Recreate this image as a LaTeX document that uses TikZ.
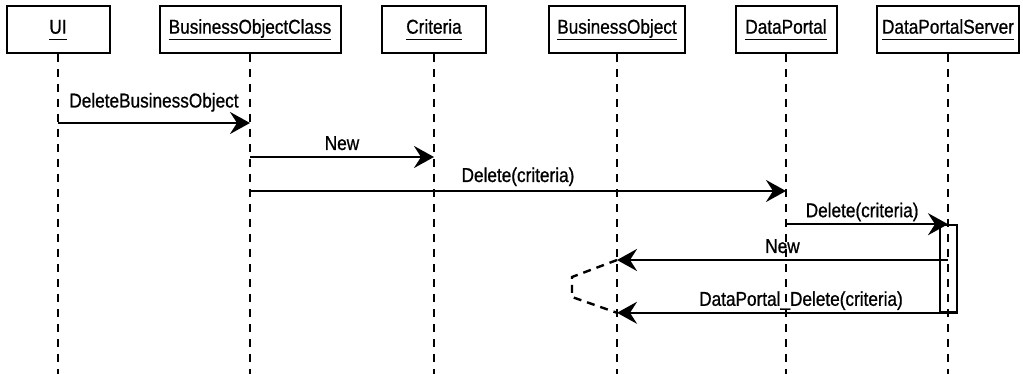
\documentclass[tikz,border=0pt]{standalone}
\usepackage{fontspec}
\usepackage{tikz}
\usetikzlibrary{arrows.meta,positioning,calc}
\usepackage{xcolor}
\newfontfamily\seqfont{Liberation Sans}[FakeStretch=0.86, FakeBold=0.8]
\newcommand{\objname}[1]{\underline{#1\vphantom{j}}}

\begin{document}
\begin{tikzpicture}[
  x=1pt, y=-1pt,
  object/.style={
    rectangle, draw=black, fill=white, line width=2pt,
    minimum height=47pt, inner sep=0pt, align=center,
    font=\seqfont\fontsize{20}{22}\selectfont
  },
  lifeline/.style={line width=2.6pt, dash pattern=on 8pt off 7pt},
  activation/.style={draw=black, line width=1.6pt, inner sep=0pt},
  msg/.style={-{Stealth[length=20pt, width=22pt, inset=7pt]}, line width=2.5pt},
  selfcall/.style={line width=2.4pt, dash pattern=on 8pt off 6pt},
  lbl/.style={anchor=base, yshift=7pt, inner sep=0pt,
    font=\seqfont\fontsize{20}{22}\selectfont},
]
  \useasboundingbox (0,0) rectangle (1023,374);

  % Row 1: Objects
  \node[object, minimum width=103pt] (ui)   at (58,29.5)  {\objname{UI}};
  \node[object, minimum width=181pt] (boc)  at (250,29.5) {\objname{BusinessObjectClass}};
  \node[object, minimum width=104pt] (crit) at (434,29.5) {\objname{Criteria}};
  \node[object, minimum width=136pt] (bo)   at (617,29.5) {\objname{BusinessObject}};
  \node[object, minimum width=101pt] (dp)   at (786,29.5) {\objname{DataPortal}};
  \node[object, minimum width=142pt] (dps)  at (948,29.5) {\objname{DataPortalServer}};

  % Lifelines
  \foreach \n in {ui,boc,crit,bo,dp,dps} {
    \coordinate (\n-end) at (\n.south |- 0,374);
    \draw[lifeline] (\n.south) -- (\n-end);
  }

  % Activation on DataPortalServer
  \node[activation, minimum width=17pt, minimum height=87pt] (act) at (948.5,268.5) {};

  % Message ends
  \coordinate (m1s) at (ui.south |- 0,123);
  \coordinate (m1e) at (boc.south |- 0,123);
  \coordinate (m2s) at (boc.south |- 0,157);
  \coordinate (m2e) at (crit.south |- 0,157);
  \coordinate (m3s) at (boc.south |- 0,191);
  \coordinate (m3e) at (dp.south |- 0,191);
  \coordinate (m4s) at (dp.south |- act.north);
  \coordinate (m4e) at (dps.south |- act.north);
  \coordinate (m5s) at (dps.south |- 0,260);
  \coordinate (m5e) at (bo.south |- 0,260);
  \coordinate (m6e) at (bo.south |- act.south);
  \coordinate (loop1) at (572,277);
  \coordinate (loop2) at (572,297);

  % Arrows
  \draw[msg] (m1s) -- node[lbl, yshift=8.5pt] {DeleteBusinessObject} (m1e);
  \draw[msg] (m2s) -- node[lbl] {New} (m2e);
  \draw[msg] (m3s) -- node[lbl, yshift=2pt] {Delete(criteria)} (m3e);
  \draw[msg] (m4s) -- node[lbl, pos=0.47] {Delete(criteria)} (m4e);
  \draw[msg] (m5s) -- node[lbl] {New} (m5e);
  \draw[msg] (act.south east) -- node[lbl, pos=0.46] {DataPortal\_Delete(criteria)} (m6e);
  \draw[selfcall] (m5e) -- (loop1) -- (loop2) -- (m6e);
\end{tikzpicture}
\end{document}
